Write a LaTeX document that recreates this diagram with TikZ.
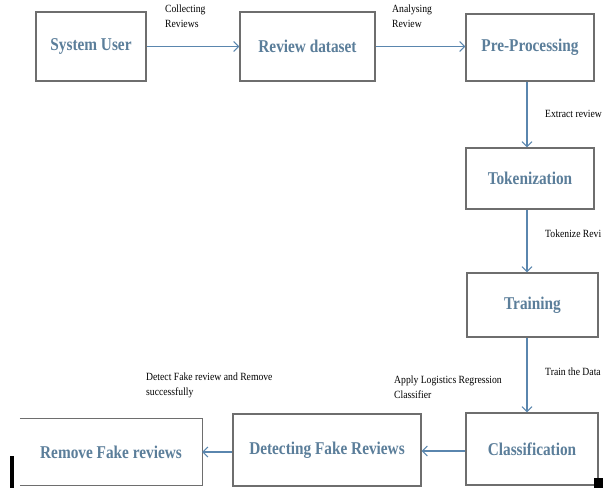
\documentclass[tikz,border=0pt]{standalone}
\usepackage{fontspec}
\setmainfont{Liberation Serif}
\newfontfamily\boxfont[FakeStretch=0.85]{Liberation Serif}
\newfontfamily\lblfont[FakeStretch=0.88]{Liberation Serif}
\usetikzlibrary{arrows.meta}
\definecolor{boxtext}{HTML}{5B7E9A}
\definecolor{arrowc}{HTML}{5A86AE}
\definecolor{boxline}{HTML}{6E6E6E}
\begin{document}
\begin{tikzpicture}[x=1pt,y=-1pt,
  stepbox/.style={draw=boxline, line width=1.3pt, fill=white, inner sep=0pt,
    font=\boxfont\bfseries\fontsize{18}{20}\selectfont, text=boxtext},
  openbox/.style={inner sep=0pt, font=\boxfont\bfseries\fontsize{18}{20}\selectfont, text=boxtext},
  flow/.style={draw=arrowc, line width=1.1pt, -{Straight Barb[length=5pt,width=10pt,line width=1pt]}},
  lbl/.style={font=\lblfont\fontsize{11}{15}\selectfont, align=left, inner sep=0pt, anchor=north west},
  artifact/.style={fill=black}
]
\useasboundingbox (0,0) rectangle (603,491);
\fill[white] (0,0) rectangle (603,491);

\node[stepbox, minimum width=110pt, minimum height=69pt] (su) at (91,46.5) {System User};
\node[stepbox, minimum width=135pt, minimum height=69pt] (rd) at (307.5,46.5) {Review dataset};
\node[stepbox, minimum width=128pt, minimum height=67pt] (pre) at (530,47.5) {Pre-Processing};
\node[stepbox, minimum width=128pt, minimum height=61pt] (tok) at (530,178.5) {Tokenization};
\node[stepbox, minimum width=131pt, minimum height=64pt] (trn) at (532.5,305) {Training};
\node[stepbox, minimum width=132pt, minimum height=72pt] (cls) at (532,449) {Classification};
\node[stepbox, minimum width=188pt, minimum height=72pt] (det) at (327,450) {Detecting Fake Reviews};
\node[openbox, minimum width=182pt, minimum height=66pt] (rem) at (111,452) {Remove Fake reviews};
\draw[draw=boxline, line width=1.3pt] (rem.north west) -- (rem.north east) -- (rem.south east) -- (rem.south west);

\coordinate (col) at (527,0);
\draw[flow] (su.east) -- (rd.west);
\draw[flow] (rd.east) -- (rd.east -| pre.west);
\draw[flow] (pre.south -| col) -- (tok.north -| col);
\draw[flow] (tok.south -| col) -- (trn.north -| col);
\draw[flow] (trn.south -| col) -- (cls.north -| col);
\draw[flow] ([yshift=-2pt]cls.west) -- ([yshift=-2pt]cls.west -| det.east);
\draw[flow] ([yshift=-2pt]det.west) -- ([yshift=-2pt]det.west -| rem.east);

\node[lbl] (l1) at (165,5) {Collecting\\Reviews};
\node[lbl] (l2) at (392,5) {Analysing\\Review};
\node[lbl, anchor=west] (l3) at (545,114) {Extract review};
\node[lbl, anchor=west] (l4) at (545,234) {Tokenize Revi};
\node[lbl, anchor=west] (l5) at (545,372) {Train the Data};
\node[lbl] (l6) at (394,376) {Apply Logistics Regression\\Classifier};
\node[lbl] (l7) at (146,373) {Detect Fake review and Remove\\successfully};

\fill[artifact] (10,456) rectangle (14,488);
\fill[artifact] (594,478) rectangle (603,488);
\end{tikzpicture}
\end{document}
